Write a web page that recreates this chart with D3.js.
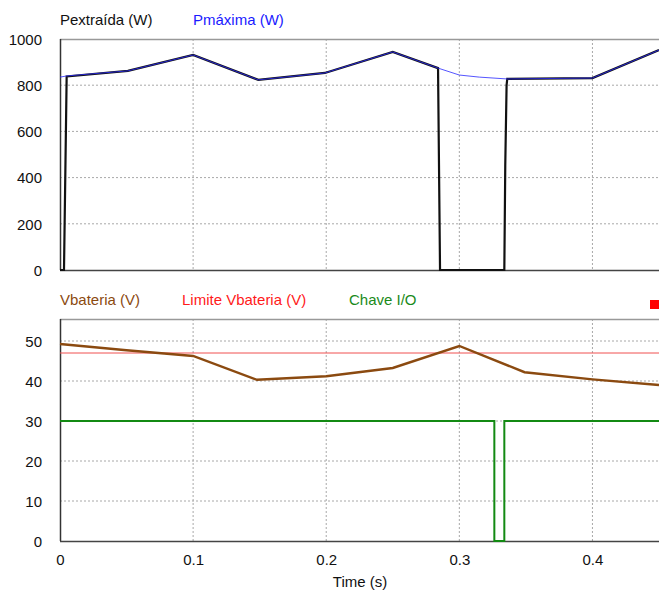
<!DOCTYPE html>
<html>
<head>
<meta charset="utf-8">
<script src="https://cdn.jsdelivr.net/npm/d3@7"></script>
<style>
  html, body { margin: 0; padding: 0; background: #fff; }
  svg { display: block; font-family: "Liberation Sans", Arial, sans-serif; }
  .grid line { stroke: #a8a8a8; stroke-dasharray: 2,2; }
  .tick text { font-size: 15px; fill: #111; }
</style>
</head>
<body>
<script>
'use strict';

// --- data ---
const tMax = [0, 0.005, 0.051, 0.1, 0.149, 0.199, 0.25, 0.284, 0.3, 0.315, 0.336, 0.4, 0.45];
const pMaxima = [835, 840, 862, 931, 823, 853, 944, 874, 844, 835, 827, 831, 952];

const tExt = [0, 0.003, 0.005, 0.051, 0.1, 0.149, 0.199, 0.25, 0.284, 0.2855, 0.3338, 0.3345, 0.3355, 0.336, 0.4, 0.45];
const pExtraida = [0, 0, 838, 862, 931, 823, 853, 944, 874, 0, 0, 450, 800, 827, 831, 952];

const tBat = [0, 0.05, 0.1, 0.148, 0.2, 0.25, 0.3, 0.349, 0.4, 0.45];
const vBateria = [49.25, 47.7, 46.25, 40.3, 41.2, 43.25, 48.75, 42.2, 40.4, 39];

const limiteVbateria = 47;

const tChave = [0, 0.3263, 0.3263, 0.3338, 0.3338, 0.45];
const chave = [30, 30, 0, 0, 30, 30];

const xTicks = [0, 0.1, 0.2, 0.3, 0.4];
const yTicksTop = [0, 200, 400, 600, 800, 1000];
const yTicksBot = [0, 10, 20, 30, 40, 50];

// --- layout ---
const W = 659, H = 590;
const left = 60, right = 659;
const top1 = 39, bot1 = 270;
const top2 = 319, bot2 = 541;

const svg = d3.select("body").append("svg")
  .attr("width", W).attr("height", H);

const x = d3.scaleLinear().domain([0, 0.45]).range([left, right]);
const y1 = d3.scaleLinear().domain([0, 1000]).range([bot1, top1]);
const y2 = d3.scaleLinear().domain([0, 55.5]).range([bot2, top2]);

function panel(y, yt, top, bot, showX) {
  const g = svg.append("g");
  // grid
  g.append("g").attr("class", "grid")
    .selectAll("line").data(xTicks.filter((d) => d > 0)).enter().append("line")
    .attr("x1", (d) => x(d)).attr("x2", (d) => x(d))
    .attr("y1", top).attr("y2", bot);
  g.append("g").attr("class", "grid")
    .selectAll("line").data(yt.filter((d) => y(d) > top + 1 && y(d) < bot - 1)).enter().append("line")
    .attr("x1", left).attr("x2", right)
    .attr("y1", (d) => y(d)).attr("y2", (d) => y(d));
  // frame
  g.append("line").attr("x1", left).attr("x2", right).attr("y1", top + 0.5).attr("y2", top + 0.5)
    .attr("stroke", "#999").attr("stroke-width", 1.5);
  // y axis
  const ya = g.append("g").attr("transform", `translate(${left},0)`)
    .call(d3.axisLeft(y).tickValues(yt).tickSize(0).tickPadding(18).tickFormat(d3.format("d")));
  ya.select(".domain").remove();
  ya.selectAll("text").attr("dy", "0.35em");
  g.append("line").attr("x1", left + 0.5).attr("x2", left + 0.5).attr("y1", top).attr("y2", bot)
    .attr("stroke", "#333").attr("stroke-width", 1.5);
  g.append("line").attr("x1", left).attr("x2", right).attr("y1", bot + 0.5).attr("y2", bot + 0.5)
    .attr("stroke", "#444").attr("stroke-width", 1.5);
  if (showX) {
    const xa = g.append("g").attr("transform", `translate(0,${bot})`)
      .call(d3.axisBottom(x).tickValues(xTicks).tickSize(0).tickPadding(13)
        .tickFormat((d) => d === 0 ? "0" : d3.format(".1f")(d)));
    xa.select(".domain").remove();
  }
  return g;
}

panel(y1, yTicksTop, top1, bot1, false);
panel(y2, yTicksBot, top2, bot2, true);

const line = (xs, ys, y) => d3.line().x((d, i) => x(xs[i])).y((d) => y(d))(ys);

// top panel lines
svg.append("path").attr("d", line(tExt, pExtraida, y1))
  .attr("fill", "none").attr("stroke", "#111").attr("stroke-width", 2.2);
svg.append("path").attr("d", line(tMax, pMaxima, y1))
  .attr("fill", "none").attr("stroke", "#2a2aff").attr("stroke-width", 1).attr("opacity", 0.8);

// bottom panel lines
svg.append("line")
  .attr("x1", x(0)).attr("x2", x(0.45))
  .attr("y1", y2(limiteVbateria)).attr("y2", y2(limiteVbateria))
  .attr("stroke", "#f05050").attr("stroke-width", 1);
svg.append("path").attr("d", line(tBat, vBateria, y2))
  .attr("fill", "none").attr("stroke", "#8b4a10").attr("stroke-width", 2.4);
svg.append("path").attr("d", line(tChave, chave, y2))
  .attr("fill", "none").attr("stroke", "#138a13").attr("stroke-width", 2);

// legends
const legend = (txt, lx, ly, col) => svg.append("text")
  .attr("x", lx).attr("y", ly).attr("fill", col)
  .style("font-size", "15px").text(txt);
legend("Pextraída (W)", 60, 25, "#111");
legend("Pmáxima (W)", 193, 25, "#1a1aff");
legend("Vbateria (V)", 60, 305, "#8b4a10");
legend("Limite Vbateria (V)", 182, 305, "#ff1a1a");
legend("Chave I/O", 349, 305, "#1a8a1a");

svg.append("rect").attr("x", 650).attr("y", 300).attr("width", 9).attr("height", 9)
  .attr("fill", "#ff0000");

svg.append("text").attr("x", 360).attr("y", 587).attr("text-anchor", "middle")
  .style("font-size", "15px").attr("fill", "#111").text("Time (s)");
</script>
</body>
</html>
